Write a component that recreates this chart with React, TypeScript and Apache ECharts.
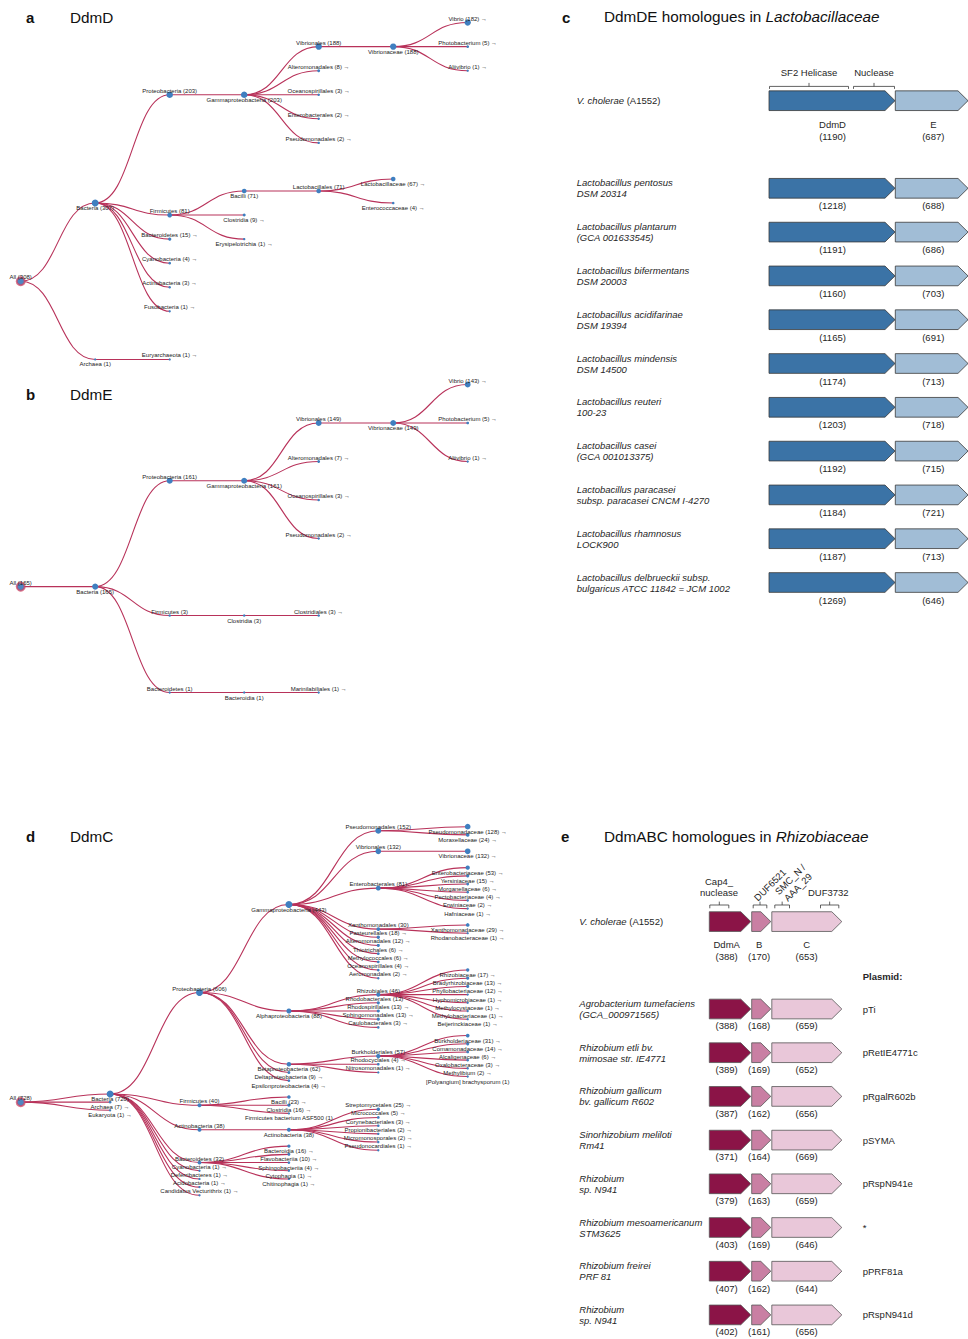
import React, { useEffect, useRef } from 'react';
import * as echarts from 'echarts';

type TNode = [string, number, TNode[]?];

const FONT = '"Liberation Sans", Arial, Helvetica, sans-serif';

// ---------------- Panel a: DdmD taxonomy ----------------
const ddmDTree: TNode = ['All', 308, [
  ['Bacteria', 307, [
    ['Proteobacteria', 203, [
      ['Gammaproteobacteria', 203, [
        ['Vibrionales', 188, [
          ['Vibrionaceae', 188, [['Vibrio', 182], ['Photobacterium', 5], ['Aliivibrio', 1]]],
        ]],
        ['Alteromonadales', 8], ['Oceanospirillales', 3], ['Enterobacterales', 2], ['Pseudomonadales', 2],
      ]],
    ]],
    ['Firmicutes', 81, [
      ['Bacilli', 71, [
        ['Lactobacillales', 71, [['Lactobacillaceae', 67], ['Enterococcaceae', 4]]],
      ]],
      ['Clostridia', 9], ['Erysipelotrichia', 1],
    ]],
    ['Bacteroidetes', 15], ['Cyanobacteria', 4], ['Actinobacteria', 3], ['Fusobacteria', 1],
  ]],
  ['Archaea', 1, [['Euryarchaeota', 1]]],
]];

// ---------------- Panel b: DdmE taxonomy ----------------
const ddmETree: TNode = ['All', 165, [
  ['Bacteria', 165, [
    ['Proteobacteria', 161, [
      ['Gammaproteobacteria', 161, [
        ['Vibrionales', 149, [
          ['Vibrionaceae', 149, [['Vibrio', 143], ['Photobacterium', 5], ['Aliivibrio', 1]]],
        ]],
        ['Alteromonadales', 7], ['Oceanospirillales', 3], ['Pseudomonadales', 2],
      ]],
    ]],
    ['Firmicutes', 3, [['Clostridia', 3, [['Clostridiales', 3]]]]],
    ['Bacteroidetes', 1, [['Bacteroidia', 1, [['Marinilabiliales', 1]]]]],
  ]],
]];

// ---------------- Panel d: DdmC taxonomy ----------------
const ddmCTree: TNode = ['All', 728, [
  ['Bacteria', 720, [
    ['Proteobacteria', 606, [
      ['Gammaproteobacteria', 443, [
        ['Pseudomonadales', 152, [['Pseudomonadaceae', 128], ['Moraxellaceae', 24]]],
        ['Vibrionales', 132, [['Vibrionaceae', 132]]],
        ['Enterobacterales', 81, [
          ['Enterobacteriaceae', 53], ['Yersiniaceae', 15], ['Morganellaceae', 6],
          ['Pectobacteriaceae', 4], ['Erwiniaceae', 2], ['Hafniaceae', 1],
        ]],
        ['Xanthomonadales', 30, [['Xanthomonadaceae', 29], ['Rhodanobacteraceae', 1]]],
        ['Pasteurellales', 18], ['Alteromonadales', 12], ['Thiotrichales', 6],
        ['Methylococcales', 6], ['Oceanospirillales', 4], ['Aeromonadales', 2],
      ]],
      ['Alphaproteobacteria', 88, [
        ['Rhizobiales', 46, [
          ['Rhizobiaceae', 17], ['Bradyrhizobiaceae', 13], ['Phyllobacteriaceae', 12],
          ['Hyphomicrobiaceae', 1], ['Methylocystaceae', 1], ['Methylobacteriaceae', 1], ['Beijerinckiaceae', 1],
        ]],
        ['Rhodobacterales', 13], ['Rhodospirillales', 13], ['Sphingomonadales', 13], ['Caulobacterales', 3],
      ]],
      ['Betaproteobacteria', 62, [
        ['Burkholderiales', 57, [
          ['Burkholderiaceae', 31], ['Comamonadaceae', 14], ['Alcaligenaceae', 6],
          ['Oxalobacteraceae', 3], ['Methylibium', 2], ['[Polyangium] brachysporum', 1],
        ]],
        ['Rhodocyclales', 4], ['Nitrosomonadales', 1],
      ]],
      ['Deltaproteobacteria', 9], ['Epsilonproteobacteria', 4],
    ]],
    ['Firmicutes', 40, [['Bacilli', 23], ['Clostridia', 16], ['Firmicutes bacterium ASF500', 1]]],
    ['Actinobacteria', 38, [
      ['Actinobacteria', 38, [
        ['Streptomycetales', 25], ['Micrococcales', 5], ['Corynebacteriales', 3],
        ['Propionibacteriales', 2], ['Micromonosporales', 2], ['Pseudonocardiales', 1],
      ]],
    ]],
    ['Bacteroidetes', 32, [
      ['Bacteroidia', 16], ['Flavobacteriia', 10], ['Sphingobacteriia', 4], ['Cytophagia', 1], ['Chitinophagia', 1],
    ]],
    ['Cyanobacteria', 1], ['Deferribacteres', 1], ['Acidobacteria', 1], ['Candidatus Vecturithrix', 1],
  ]],
  ['Archaea', 7], ['Eukaryota', 1],
]];

const noArrowTaxa = ['[Polyangium] brachysporum', 'Firmicutes bacterium ASF500'];

// ---------------- Panel c: DdmDE homologues ----------------
const refStrain = 'V. cholerae (A1552)';
const geneNamesC = ['DdmD', 'E'];
const refLensC = [1190, 687];
const domainNamesC = ['SF2 Helicase', 'Nuclease'];
const speciesC = [
  'Lactobacillus pentosus\nDSM 20314',
  'Lactobacillus plantarum\n(GCA 001633545)',
  'Lactobacillus bifermentans\nDSM 20003',
  'Lactobacillus acidifarinae\nDSM 19394',
  'Lactobacillus mindensis\nDSM 14500',
  'Lactobacillus reuteri\n100-23',
  'Lactobacillus casei\n(GCA 001013375)',
  'Lactobacillus paracasei\nsubsp. paracasei CNCM I-4270',
  'Lactobacillus rhamnosus\nLOCK900',
  'Lactobacillus delbrueckii subsp.\nbulgaricus ATCC 11842 = JCM 1002',
];
const ddmDLens = [1218, 1191, 1160, 1165, 1174, 1203, 1192, 1184, 1187, 1269];
const ddmELens = [688, 686, 703, 691, 713, 718, 715, 721, 713, 646];

// ---------------- Panel e: DdmABC homologues ----------------
const geneNamesE = ['DdmA', 'B', 'C'];
const refLensE = [388, 170, 653];
const domainNamesE = ['Cap4_\nnuclease', 'DUF6521', 'SMC_N /\nAAA_29', 'DUF3732'];
const speciesE = [
  'Agrobacterium tumefaciens\n(GCA_000971565)',
  'Rhizobium etli bv.\nmimosae str. IE4771',
  'Rhizobium gallicum\nbv. gallicum R602',
  'Sinorhizobium meliloti\nRm41',
  'Rhizobium\nsp. N941',
  'Rhizobium mesoamericanum\nSTM3625',
  'Rhizobium freirei\nPRF 81',
  'Rhizobium\nsp. N941',
];
const plasmidsE = ['pTi', 'pRetIE4771c', 'pRgalR602b', 'pSYMA', 'pRspN941e', '*', 'pPRF81a', 'pRspN941d'];
const ddmALens = [388, 389, 387, 371, 379, 403, 407, 402];
const ddmBLens = [168, 169, 162, 164, 163, 169, 162, 161];
const ddmCLens = [659, 652, 656, 669, 659, 646, 644, 656];

// ---------------- layout / style constants ----------------
const SLOT_C = [[0, 126], [126.3, 199]];
const LABEL_X_C = [63.5, 164.3];
const DOMAIN_SPAN_C = [[0, 80], [84, 126]];
const COLORS_C = ['#3b73a6', '#a1bdd6'];

const SLOT_E = [[0, 41.5], [42.4, 61.5], [62.5, 132.5]];
const LABEL_X_E = [17.4, 49.9, 97.4];
const DOMAIN_SPAN_E = [[0, 20], [43.4, 58], [65, 80.7], [110.7, 130]];
const DOMAIN_LABEL_E = [
  { x: 9.7, dy: -34.7, rot: 0 },
  { x: 60.7, dy: -36.8, rot: 45 },
  { x: 84.7, dy: -38.3, rot: 45 },
  { x: 119, dy: -29.3, rot: 0 },
];
const COLORS_E = ['#8b1447', '#c97fa3', '#e9c7d9'];

const TEXT = '#262626';
const FS = 9.5;

function buildTree(node: TNode, depth: number): any {
  const [name, count, kids] = node;
  const leaf = !kids || kids.length === 0;
  const arrow = leaf && noArrowTaxa.indexOf(name) < 0 ? ' \u2192' : '';
  const item: any = {
    name: `${name} (${count})${arrow}`,
    symbolSize: depth === 0 ? 8 : Math.min(7, 2 + 0.32 * Math.sqrt(count)),
    label: { offset: [0, depth % 2 === 0 ? -4 : 5] },
  };
  if (depth === 0) {
    item.itemStyle = { color: '#4f86c2', borderColor: 'rgba(205,70,100,0.75)', borderWidth: 2 };
  }
  if (!leaf) item.children = kids!.map((k) => buildTree(k, depth + 1));
  return item;
}

function treeSeries(root: TNode, top: number) {
  return {
    type: 'tree',
    data: [buildTree(root, 0)],
    left: 20.7,
    top,
    width: 447,
    height: 385,
    orient: 'LR',
    layout: 'orthogonal',
    edgeShape: 'curve',
    symbol: 'circle',
    initialTreeDepth: -1,
    expandAndCollapse: false,
    roam: false,
    silent: true,
    itemStyle: { color: '#3f7fc0', borderWidth: 0 },
    lineStyle: { color: '#b8325a', width: 1.1, curveness: 0.5 },
    label: {
      position: 'inside', align: 'center', verticalAlign: 'middle',
      fontSize: 6, color: '#222', fontFamily: FONT,
    },
    leaves: { label: { position: 'inside', align: 'center', verticalAlign: 'middle' } },
    emphasis: { disabled: true },
  };
}

const richLabel = {
  i: { fontStyle: 'italic', fontSize: FS, lineHeight: 11, color: TEXT, fontFamily: FONT },
  n: { fontSize: FS, lineHeight: 11, color: TEXT, fontFamily: FONT },
};

function fmtSpecies(v: string) {
  if (!v) return '';
  if (v.indexOf('V. cholerae') === 0) {
    return `{i|V. cholerae}{n|${v.slice('V. cholerae'.length)}}`;
  }
  return v.split('\n').map((l) => `{i|${l}}`).join('\n');
}

function geneRender(slots: number[][], labelX: number[], colors: string[], names: string[], stroke: string,
  refDy: number, rowDy: number) {
  return (params: any, api: any) => {
    const x0 = api.value(0);
    const r = api.value(1);
    const x1 = api.value(2);
    const len = api.value(3);
    const g = api.value(4);
    const a = api.coord([x0, r]);
    const b = api.coord([x1, r]);
    const cy = a[1];
    const h = 19.7;
    const head = 10;
    const children: any[] = [{
      type: 'polygon',
      shape: {
        points: [[a[0], cy - h / 2], [b[0] - head, cy - h / 2], [b[0], cy], [b[0] - head, cy + h / 2], [a[0], cy + h / 2]],
      },
      style: { fill: colors[g], stroke, lineWidth: 0.8 },
    }];
    const lx = api.coord([labelX[g], r])[0];
    if (r === 0) {
      children.push({
        type: 'text', x: lx, y: cy + refDy,
        style: { text: `${names[g]}\n(${len})`, fontSize: FS, lineHeight: 12, fontFamily: FONT, fill: TEXT, align: 'center', verticalAlign: 'middle' },
      });
    } else {
      children.push({
        type: 'text', x: lx, y: cy + rowDy,
        style: { text: `(${len})`, fontSize: FS, fontFamily: FONT, fill: TEXT, align: 'center', verticalAlign: 'middle' },
      });
    }
    return { type: 'group', children };
  };
}

function bracketRender(names: string[], topDy: number, endLen: number, midLen: number,
  labelSpec: (i: number, m: number, api: any, r: number) => { x: number; y: number; rot: number }) {
  return (params: any, api: any) => {
    const x0 = api.value(0);
    const r = api.value(1);
    const x1 = api.value(2);
    const i = api.value(3);
    const a = api.coord([x0, r]);
    const b = api.coord([x1, r]);
    const cy = a[1];
    const top = cy + topDy;
    const m = (a[0] + b[0]) / 2;
    const ls = labelSpec(i, m, api, r);
    return {
      type: 'group',
      children: [
        { type: 'polyline', shape: { points: [[a[0] + 0.5, top + endLen], [a[0] + 0.5, top], [b[0] - 0.5, top], [b[0] - 0.5, top + endLen]] }, style: { stroke: '#3a3a3a', lineWidth: 0.8, fill: 'none' } },
        { type: 'line', shape: { x1: m, y1: top, x2: m, y2: top - midLen }, style: { stroke: '#3a3a3a', lineWidth: 0.8 } },
        {
          type: 'text', x: ls.x, y: ls.y, rotation: (ls.rot * Math.PI) / 180,
          style: { text: names[i], fontSize: FS, lineHeight: 11, fontFamily: FONT, fill: TEXT, align: 'center', verticalAlign: 'middle' },
        },
      ],
    };
  };
}

function buildOption() {
  const catC = [refStrain, '', ...speciesC];
  const catE = [refStrain, '', ...speciesE];
  const plasmidCat = ['', '', ...plasmidsE];

  const geneDataC: number[][] = [];
  const rowsC = [{ r: 0, lens: refLensC }, ...speciesC.map((s, i) => ({ r: i + 2, lens: [ddmDLens[i], ddmELens[i]] }))];
  rowsC.forEach((row) => row.lens.forEach((len, g) => geneDataC.push([SLOT_C[g][0], row.r, SLOT_C[g][1], len, g])));

  const geneDataE: number[][] = [];
  const rowsE = [{ r: 0, lens: refLensE }, ...speciesE.map((s, i) => ({ r: i + 2, lens: [ddmALens[i], ddmBLens[i], ddmCLens[i]] }))];
  rowsE.forEach((row) => row.lens.forEach((len, g) => geneDataE.push([SLOT_E[g][0], row.r, SLOT_E[g][1], len, g])));

  const domDataC = domainNamesC.map((n, i) => [DOMAIN_SPAN_C[i][0], 0, DOMAIN_SPAN_C[i][1], i]);
  const domDataE = domainNamesE.map((n, i) => [DOMAIN_SPAN_E[i][0], 0, DOMAIN_SPAN_E[i][1], i]);

  const hiddenY = { axisLine: { show: false }, axisTick: { show: false }, splitLine: { show: false } };

  const title = (x: number, y: number, text: string, size: number, weight = 'normal') => ({
    type: 'text', x, y,
    style: { text, fontSize: size, fontWeight: weight, fontFamily: FONT, fill: '#111', align: 'left', verticalAlign: 'middle' },
  });
  const richTitle = (x: number, y: number, plain: string, ital: string) => ({
    type: 'text', x, y,
    style: {
      text: `{n|${plain}}{i|${ital}}`,
      rich: {
        n: { fontSize: 15.3, fontFamily: FONT, fill: '#111' },
        i: { fontSize: 15.3, fontFamily: FONT, fontStyle: 'italic', fill: '#111' },
      },
      align: 'left', verticalAlign: 'middle',
    },
  });

  return {
    animation: false,
    backgroundColor: '#ffffff',
    textStyle: { fontFamily: FONT },
    grid: [
      { left: 769, top: 78.8, width: 199, height: 12 * 43.8, outerBoundsMode: 'none' },
      { left: 709.3, top: 899.75, width: 133.3, height: 10 * 43.7, outerBoundsMode: 'none' },
    ],
    xAxis: [
      { gridIndex: 0, type: 'value', min: 0, max: 199, show: false },
      { gridIndex: 1, type: 'value', min: 0, max: 133.3, show: false },
    ],
    yAxis: [
      {
        gridIndex: 0, type: 'category', inverse: true, data: catC, ...hiddenY,
        axisLabel: { interval: 0, align: 'left', margin: 192.3, formatter: fmtSpecies, rich: richLabel },
      },
      {
        gridIndex: 1, type: 'category', inverse: true, data: catE, ...hiddenY,
        axisLabel: { interval: 0, align: 'left', margin: 130, formatter: fmtSpecies, rich: richLabel },
      },
      {
        gridIndex: 1, type: 'category', inverse: true, position: 'right', data: plasmidCat, ...hiddenY,
        axisLabel: { interval: 0, align: 'left', margin: 20.1, fontSize: FS, color: TEXT, fontFamily: FONT },
      },
    ],
    series: [
      treeSeries(ddmDTree, -1.5),
      treeSeries(ddmETree, 346),
      treeSeries(ddmCTree, 818.5),
      {
        type: 'custom', coordinateSystem: 'cartesian2d', xAxisIndex: 0, yAxisIndex: 0, silent: true,
        data: geneDataC, encode: { x: [0, 2], y: 1 },
        renderItem: geneRender(SLOT_C, LABEL_X_C, COLORS_C, geneNamesC, '#3a3a3a', 30, 17.5),
      },
      {
        type: 'custom', coordinateSystem: 'cartesian2d', xAxisIndex: 0, yAxisIndex: 0, silent: true,
        data: domDataC, encode: { x: [0, 2], y: 1 },
        renderItem: bracketRender(domainNamesC, -14.3, 2.5, 3.5, (i, m, api, r) => ({ x: m, y: api.coord([0, r])[1] - 28, rot: 0 })),
      },
      {
        type: 'custom', coordinateSystem: 'cartesian2d', xAxisIndex: 1, yAxisIndex: 1, silent: true,
        data: geneDataE, encode: { x: [0, 2], y: 1 },
        renderItem: geneRender(SLOT_E, LABEL_X_E, COLORS_E, geneNamesE, '#555555', 28.7, 16.8),
      },
      {
        type: 'custom', coordinateSystem: 'cartesian2d', xAxisIndex: 1, yAxisIndex: 1, silent: true,
        data: domDataE, encode: { x: [0, 2], y: 1 },
        renderItem: bracketRender(domainNamesE, -16.6, 3.3, 3.4, (i, m, api, r) => {
          const p = api.coord([DOMAIN_LABEL_E[i].x, r]);
          return { x: p[0], y: p[1] + DOMAIN_LABEL_E[i].dy, rot: DOMAIN_LABEL_E[i].rot };
        }),
      },
    ],
    graphic: [
      title(26, 17, 'a', 15, 'bold'), title(70, 17, 'DdmD', 15.3),
      title(26, 394, 'b', 15, 'bold'), title(70, 394, 'DdmE', 15.3),
      title(26, 836, 'd', 15, 'bold'), title(70, 836, 'DdmC', 15.3),
      title(562, 17, 'c', 15, 'bold'), richTitle(604, 16, 'DdmDE homologues in ', 'Lactobacillaceae'),
      title(561, 836, 'e', 15, 'bold'), richTitle(604, 836, 'DdmABC homologues in ', 'Rhizobiaceae'),
      {
        type: 'text', x: 862.7, y: 976.7,
        style: { text: 'Plasmid:', fontSize: FS, fontWeight: 'bold', fontFamily: FONT, fill: TEXT, align: 'left', verticalAlign: 'middle' },
      },
    ],
  };
}

export default function App() {
  const ref = useRef<HTMLDivElement>(null);
  useEffect(() => {
    const chart = echarts.init(ref.current!, null, { renderer: 'svg' });
    chart.setOption(buildOption() as any);
    return () => chart.dispose();
  }, []);
  return (
    <div
      ref={ref}
      style={{ position: 'absolute', left: 0, top: 0, width: 968, height: 1339, background: '#fff' }}
    />
  );
}
